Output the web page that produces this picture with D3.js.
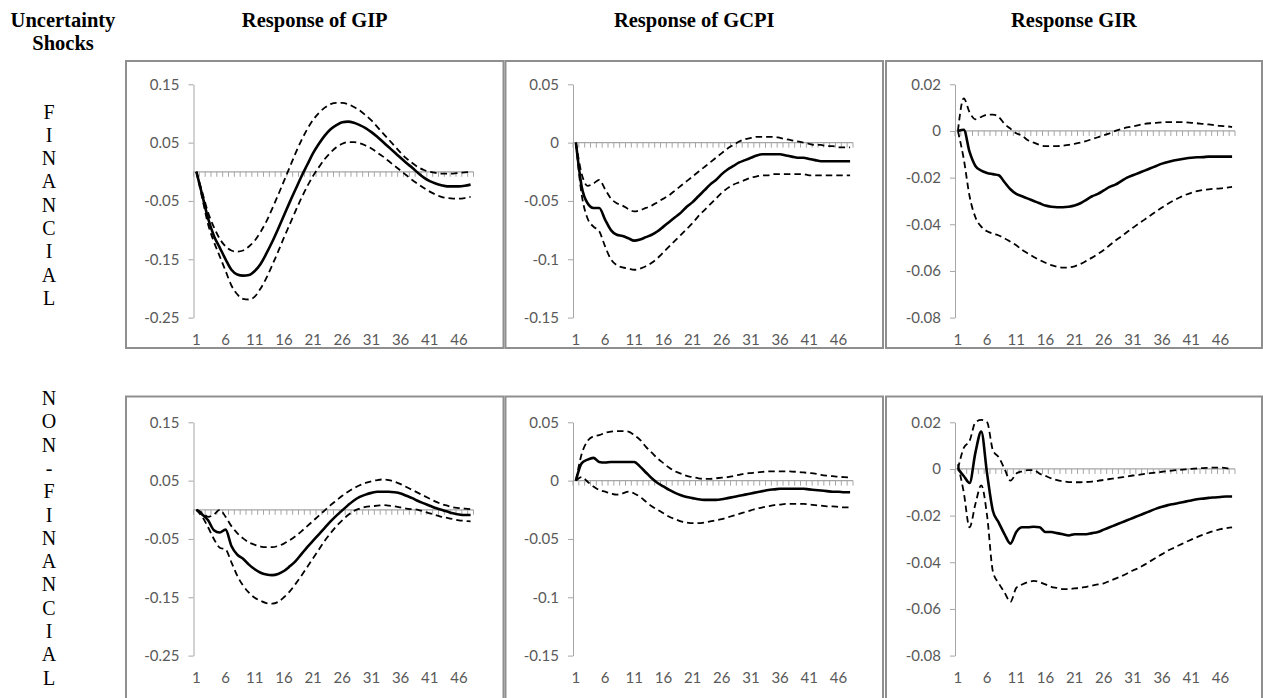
<!DOCTYPE html>
<meta charset="utf-8">
<head>
    <title>Impulse responses to uncertainty shocks</title>
    <script src="https://cdnjs.cloudflare.com/ajax/libs/d3/7.8.5/d3.min.js"></script>
</head>

<style>
body { margin: 0; background: #fff; }
.head { font-family: "Liberation Serif", "Times New Roman", serif; font-weight: bold; font-size: 20.5px; fill: #000; }
.side { font-family: "Liberation Serif", "Times New Roman", serif; font-size: 20px; fill: #000; }
.lab { font-family: Lato, "Open Sans", sans-serif; font-size: 15px; fill: #595959; }
</style>

<body>
<svg></svg>
<script>

// periods on the horizontal axis
let periods = [1,2,3,4,5,6,7,8,9,10,11,12,13,14,15,16,17,18,19,20,21,22,23,24,
               25,26,27,28,29,30,31,32,33,34,35,36,37,38,39,40,41,42,43,44,45,46,47,48];
let xTickLabels = [1, 6, 11, 16, 21, 26, 31, 36, 41, 46];

let headers = ["Response of GIP", "Response of GCPI", "Response GIR"];
let rowNames = ["FINANCIAL", "NON-FINANCIAL"];

// y ticks for each column
let gipTicks = [0.15, 0.05, -0.05, -0.15, -0.25];
let gipTickLabels = ["0.15", "0.05", "-0.05", "-0.15", "-0.25"];
let gcpiTicks = [0.05, 0, -0.05, -0.1, -0.15];
let gcpiTickLabels = ["0.05", "0", "-0.05", "-0.1", "-0.15"];
let girTicks = [0.02, 0, -0.02, -0.04, -0.06, -0.08];
let girTickLabels = ["0.02", "0", "-0.02", "-0.04", "-0.06", "-0.08"];

// financial shock -> GIP
let finGipMid = [0,-0.04,-0.08,-0.11,-0.13,-0.15,-0.168,-0.176,-0.178,-0.177,-0.17,-0.158,-0.14,-0.12,-0.098,-0.075,
  -0.052,-0.03,-0.008,0.012,0.032,0.048,0.062,0.073,0.08,0.085,0.086,0.084,0.08,0.075,0.068,0.06,
  0.051,0.042,0.033,0.024,0.015,0.007,-0.002,-0.01,-0.016,-0.02,-0.023,-0.025,-0.025,-0.025,-0.024,-0.022];
let finGipHi = [0,-0.035,-0.07,-0.095,-0.115,-0.128,-0.135,-0.137,-0.135,-0.128,-0.118,-0.103,-0.085,-0.063,-0.04,-0.016,
  0.008,0.032,0.054,0.073,0.089,0.101,0.11,0.116,0.118,0.118,0.116,0.111,0.105,0.097,0.088,0.077,
  0.066,0.055,0.044,0.033,0.023,0.015,0.008,0.003,0,-0.002,-0.003,-0.003,-0.003,-0.002,-0.001,0];
let finGipLo = [0,-0.045,-0.09,-0.12,-0.145,-0.17,-0.195,-0.21,-0.218,-0.219,-0.214,-0.2,-0.182,-0.16,-0.137,-0.113,
  -0.09,-0.067,-0.045,-0.025,-0.007,0.008,0.022,0.033,0.042,0.048,0.051,0.051,0.049,0.045,0.04,0.033,
  0.026,0.018,0.01,0.002,-0.006,-0.014,-0.021,-0.028,-0.034,-0.039,-0.043,-0.045,-0.046,-0.046,-0.045,-0.043];

// financial shock -> GCPI
let finCpiMid = [0,-0.038,-0.052,-0.056,-0.056,-0.066,-0.075,-0.079,-0.08,-0.082,-0.084,-0.083,-0.081,-0.079,-0.076,-0.072,
  -0.068,-0.064,-0.06,-0.055,-0.051,-0.046,-0.041,-0.036,-0.032,-0.027,-0.023,-0.02,-0.017,-0.015,-0.013,-0.011,
  -0.01,-0.01,-0.01,-0.01,-0.011,-0.012,-0.013,-0.013,-0.014,-0.015,-0.016,-0.016,-0.016,-0.016,-0.016,-0.016];
let finCpiHi = [0,-0.027,-0.037,-0.035,-0.032,-0.04,-0.048,-0.052,-0.054,-0.057,-0.059,-0.058,-0.056,-0.054,-0.051,-0.048,
  -0.045,-0.041,-0.037,-0.033,-0.029,-0.025,-0.021,-0.017,-0.013,-0.009,-0.005,-0.002,0.001,0.003,0.004,0.005,
  0.005,0.005,0.005,0.004,0.003,0.002,0.001,0,-0.001,-0.002,-0.002,-0.003,-0.003,-0.004,-0.004,-0.004];
let finCpiLo = [0,-0.045,-0.065,-0.072,-0.076,-0.089,-0.1,-0.105,-0.107,-0.108,-0.109,-0.108,-0.106,-0.103,-0.099,-0.094,
  -0.089,-0.084,-0.079,-0.074,-0.069,-0.063,-0.058,-0.053,-0.048,-0.043,-0.039,-0.036,-0.034,-0.032,-0.03,-0.029,
  -0.028,-0.028,-0.027,-0.027,-0.027,-0.027,-0.027,-0.027,-0.028,-0.028,-0.028,-0.028,-0.028,-0.028,-0.028,-0.028];

// financial shock -> GIR
let finIrMid = [0,0.0005,-0.009,-0.015,-0.017,-0.018,-0.0185,-0.019,-0.022,-0.025,-0.027,-0.028,-0.029,-0.03,-0.031,-0.032,
  -0.0325,-0.0327,-0.0327,-0.0325,-0.032,-0.031,-0.0295,-0.028,-0.027,-0.0255,-0.024,-0.023,-0.0215,-0.02,-0.019,-0.018,
  -0.017,-0.016,-0.015,-0.014,-0.0133,-0.0127,-0.0122,-0.0118,-0.0115,-0.0113,-0.0112,-0.011,-0.011,-0.011,-0.011,-0.011];
let finIrHi = [0,0.014,0.008,0.005,0.006,0.007,0.007,0.006,0.003,0.001,-0.001,-0.002,-0.004,-0.005,-0.006,-0.0065,
  -0.0065,-0.0065,-0.0063,-0.006,-0.0055,-0.005,-0.0043,-0.0035,-0.0027,-0.0018,-0.001,0,0.0008,0.0015,0.002,0.0025,
  0.003,0.0033,0.0035,0.0037,0.0038,0.0038,0.0038,0.0037,0.0035,0.0033,0.003,0.0028,0.0025,0.0022,0.002,0.0017];
let finIrLo = [0,-0.012,-0.028,-0.037,-0.041,-0.043,-0.044,-0.0448,-0.046,-0.0475,-0.049,-0.051,-0.0525,-0.054,-0.0553,-0.0565,
  -0.0575,-0.0582,-0.0586,-0.0585,-0.058,-0.057,-0.0557,-0.0543,-0.0527,-0.051,-0.049,-0.047,-0.0452,-0.0433,-0.0415,-0.0397,
  -0.038,-0.0362,-0.0345,-0.0328,-0.0312,-0.0298,-0.0285,-0.0274,-0.0265,-0.0258,-0.0253,-0.025,-0.0248,-0.0246,-0.0243,-0.024];

// non-financial shock -> GIP
let nonGipMid = [0,-0.008,-0.018,-0.035,-0.039,-0.034,-0.062,-0.077,-0.084,-0.094,-0.102,-0.108,-0.111,-0.112,-0.11,-0.105,
  -0.097,-0.088,-0.076,-0.064,-0.053,-0.042,-0.031,-0.02,-0.01,-0.001,0.008,0.016,0.022,0.026,0.029,0.031,
  0.031,0.031,0.03,0.028,0.024,0.02,0.015,0.011,0.007,0.003,0,-0.003,-0.006,-0.008,-0.009,-0.009];
let nonGipHi = [0,-0.005,-0.012,-0.008,0,-0.012,-0.028,-0.04,-0.049,-0.056,-0.06,-0.063,-0.064,-0.064,-0.062,-0.058,
  -0.052,-0.045,-0.037,-0.028,-0.019,-0.01,-0.001,0.008,0.016,0.024,0.031,0.037,0.042,0.046,0.049,0.051,
  0.052,0.051,0.048,0.044,0.039,0.034,0.029,0.024,0.019,0.014,0.01,0.007,0.004,0.003,0.002,0.001];
let nonGipLo = [0,-0.012,-0.03,-0.05,-0.065,-0.068,-0.09,-0.113,-0.13,-0.142,-0.151,-0.156,-0.16,-0.161,-0.158,-0.15,
  -0.14,-0.127,-0.113,-0.098,-0.083,-0.068,-0.053,-0.04,-0.028,-0.018,-0.009,-0.002,0.002,0.005,0.006,0.007,
  0.008,0.007,0.006,0.004,0.002,0.001,0,-0.003,-0.006,-0.009,-0.012,-0.014,-0.016,-0.018,-0.019,-0.02];

// non-financial shock -> GCPI
let nonCpiMid = [0,0.015,0.018,0.0195,0.016,0.0155,0.016,0.016,0.016,0.016,0.016,0.012,0.007,0.002,-0.002,-0.005,
  -0.008,-0.0105,-0.0125,-0.014,-0.015,-0.016,-0.0165,-0.0165,-0.0165,-0.016,-0.015,-0.014,-0.013,-0.012,-0.011,-0.01,
  -0.009,-0.008,-0.0075,-0.007,-0.007,-0.007,-0.007,-0.007,-0.0075,-0.008,-0.0085,-0.009,-0.0095,-0.0095,-0.01,-0.01];
let nonCpiHi = [0,0.023,0.034,0.038,0.039,0.041,0.042,0.0425,0.0425,0.042,0.039,0.035,0.029,0.024,0.019,0.015,
  0.011,0.008,0.006,0.004,0.003,0.002,0.0015,0.0015,0.002,0.0025,0.003,0.004,0.005,0.006,0.0065,0.007,
  0.0075,0.008,0.008,0.008,0.008,0.0078,0.0075,0.007,0.0065,0.006,0.005,0.0043,0.0038,0.0033,0.003,0.0028];
let nonCpiLo = [0,0.003,-0.001,-0.005,-0.008,-0.0095,-0.011,-0.012,-0.011,-0.0095,-0.011,-0.014,-0.018,-0.022,-0.025,-0.028,
  -0.031,-0.033,-0.035,-0.036,-0.0365,-0.0365,-0.036,-0.035,-0.034,-0.033,-0.0315,-0.03,-0.0285,-0.027,-0.0255,-0.024,
  -0.023,-0.022,-0.021,-0.0205,-0.02,-0.02,-0.02,-0.02,-0.0205,-0.021,-0.0215,-0.022,-0.022,-0.0225,-0.023,-0.023];

// non-financial shock -> GIR
let nonIrMid = [0,-0.003,-0.006,0.007,0.016,-0.002,-0.018,-0.023,-0.028,-0.032,-0.027,-0.025,-0.025,-0.0248,-0.025,-0.027,
  -0.027,-0.0275,-0.028,-0.0285,-0.028,-0.028,-0.028,-0.0275,-0.027,-0.026,-0.025,-0.024,-0.023,-0.022,-0.021,-0.02,
  -0.019,-0.018,-0.017,-0.0162,-0.0155,-0.015,-0.0145,-0.014,-0.0135,-0.013,-0.0127,-0.0124,-0.0122,-0.012,-0.0118,-0.0118];
let nonIrHi = [0,0.009,0.012,0.02,0.021,0.02,0.008,0.005,0,-0.005,-0.002,-0.001,-0.0005,-0.0005,-0.002,-0.003,
  -0.004,-0.0048,-0.0053,-0.0056,-0.0057,-0.0057,-0.0056,-0.0054,-0.0051,-0.0047,-0.0043,-0.004,-0.0036,-0.0032,-0.0028,-0.0025,
  -0.0021,-0.0018,-0.0015,-0.0012,-0.0009,-0.0006,-0.0004,-0.0002,0,0.0002,0.0004,0.0005,0.0006,0.0006,0.0004,-0.0003];
let nonIrLo = [0.002,-0.01,-0.025,-0.015,-0.007,-0.02,-0.044,-0.049,-0.053,-0.057,-0.051,-0.0495,-0.0485,-0.048,-0.0485,-0.0495,
  -0.0505,-0.051,-0.0515,-0.0515,-0.0512,-0.051,-0.0505,-0.05,-0.0495,-0.049,-0.048,-0.047,-0.046,-0.0448,-0.0435,-0.0425,
  -0.041,-0.0395,-0.038,-0.0365,-0.035,-0.0338,-0.0326,-0.0314,-0.0303,-0.0292,-0.0282,-0.0273,-0.0265,-0.0258,-0.0254,-0.025];

// layout
let width = 1263, height = 698;
let colBox = [[126, 503.5], [505.5, 883], [886, 1262]];
let rowBox = [[61, 348], [396.5, 702]];
let axisX = [193.5, 573, 955];
let plotTop = [84.3, 422.3];
let plotH = 233.3, plotW = 280;
let grey = "#a6a6a6";

let svg = d3.select("svg")
    .attr("width", width)
    .attr("height", height);

// column headers
svg.append("text").attr("class", "head").attr("x", 63).attr("y", 27)
    .attr("text-anchor", "middle").text("Uncertainty");
svg.append("text").attr("class", "head").attr("x", 63).attr("y", 50)
    .attr("text-anchor", "middle").text("Shocks");
headers.forEach((h, i) => {
  svg.append("text").attr("class", "head")
    .attr("x", (colBox[i][0] + colBox[i][1]) / 2).attr("y", 27)
    .attr("text-anchor", "middle").text(h);
});

// stacked row names
let sideStart = [118.5, 405];
rowNames.forEach((name, r) => {
  let t = svg.append("text").attr("class", "side").attr("text-anchor", "middle");
  name.split("").forEach((ch, k) => {
    t.append("tspan").attr("x", 49).attr("y", sideStart[r] + k * 23.3).text(ch);
  });
});

let panels = [
  {row: 0, col: 0, mid: finGipMid, hi: finGipHi, lo: finGipLo, ticks: gipTicks, labels: gipTickLabels},
  {row: 0, col: 1, mid: finCpiMid, hi: finCpiHi, lo: finCpiLo, ticks: gcpiTicks, labels: gcpiTickLabels},
  {row: 0, col: 2, mid: finIrMid, hi: finIrHi, lo: finIrLo, ticks: girTicks, labels: girTickLabels},
  {row: 1, col: 0, mid: nonGipMid, hi: nonGipHi, lo: nonGipLo, ticks: gipTicks, labels: gipTickLabels},
  {row: 1, col: 1, mid: nonCpiMid, hi: nonCpiHi, lo: nonCpiLo, ticks: gcpiTicks, labels: gcpiTickLabels},
  {row: 1, col: 2, mid: nonIrMid, hi: nonIrHi, lo: nonIrLo, ticks: girTicks, labels: girTickLabels}
];

panels.forEach(p => drawPanel(p));

function drawPanel(p) {
  let c = colBox[p.col], r = rowBox[p.row];
  let ax = axisX[p.col], top = plotTop[p.row];

  // panel frame
  svg.append("rect")
    .attr("x", c[0]).attr("y", r[0])
    .attr("width", c[1] - c[0]).attr("height", r[1] - r[0])
    .attr("fill", "none").attr("stroke", "#8f8f8f").attr("stroke-width", 2);

  let x = d3.scaleBand().domain(periods).range([ax, ax + plotW]);
  let y = d3.scaleLinear()
    .domain([d3.min(p.ticks), d3.max(p.ticks)])
    .range([top + plotH, top]);

  // y axis
  let g = svg.append("g")
    .attr("transform", "translate(" + ax + ",0)")
    .call(d3.axisLeft(y)
      .tickValues(p.ticks)
      .tickFormat((d, i) => p.labels[i])
      .tickSize(5)
      .tickSizeOuter(0)
      .tickPadding(9));
  g.attr("font-size", null).attr("font-family", null);
  g.select(".domain").attr("stroke", grey);
  g.selectAll(".tick line").attr("stroke", grey);
  g.selectAll(".tick text").attr("class", "lab").attr("fill", null);

  // horizontal axis crossing at zero, ticks between categories
  let y0 = y(0);
  svg.append("line")
    .attr("x1", ax).attr("x2", ax + plotW)
    .attr("y1", y0).attr("y2", y0)
    .attr("stroke", grey).attr("stroke-width", 1.3);
  let bounds = periods.map(d => x(d)).concat([ax + plotW]);
  svg.append("g").selectAll("line")
    .data(bounds)
    .enter().append("line")
    .attr("x1", d => d).attr("x2", d => d)
    .attr("y1", y0).attr("y2", y0 + 5)
    .attr("stroke", grey).attr("stroke-width", 1);

  // period labels at the bottom
  svg.append("g").selectAll("text")
    .data(xTickLabels)
    .enter().append("text")
    .attr("class", "lab")
    .attr("x", d => x(d) + x.bandwidth() / 2)
    .attr("y", top + plotH + 27)
    .attr("text-anchor", "middle")
    .text(d => d);

  let line = d3.line()
    .x((d, i) => x(periods[i]) + x.bandwidth() / 2)
    .y(d => y(d))
    .curve(d3.curveMonotoneX);

  [p.hi, p.lo].forEach(s => {
    svg.append("path")
      .attr("d", line(s))
      .attr("fill", "none")
      .attr("stroke", "#000")
      .attr("stroke-width", 1.8)
      .attr("stroke-dasharray", "6.5,4");
  });

  svg.append("path")
    .attr("d", line(p.mid))
    .attr("fill", "none")
    .attr("stroke", "#000")
    .attr("stroke-width", 2.6);
}

</script>
</body>
